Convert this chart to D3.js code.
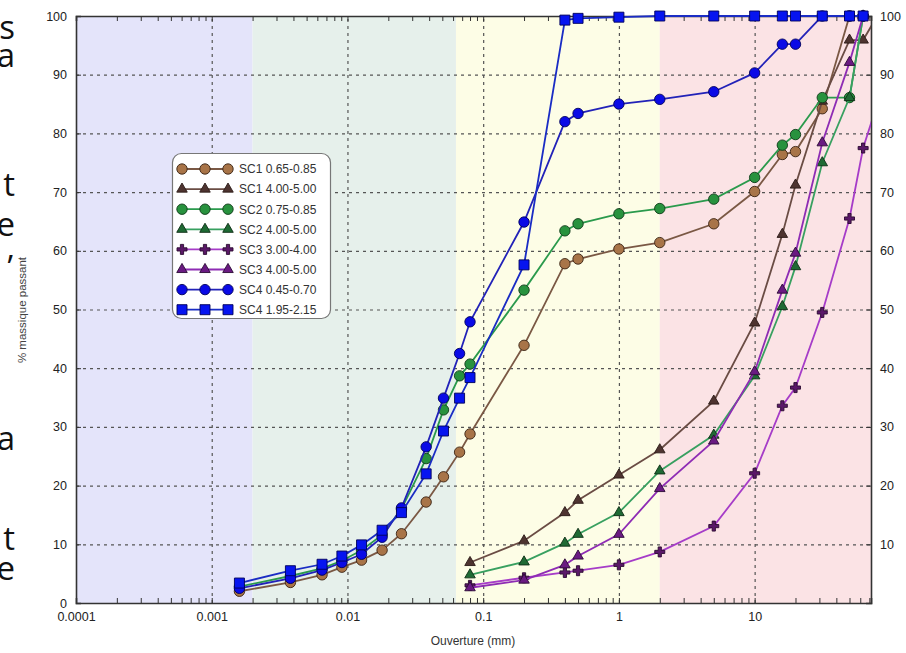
<!DOCTYPE html>
<html><head><meta charset="utf-8">
<script src="https://cdn.jsdelivr.net/npm/d3@7"></script>
<style>
html,body{margin:0;padding:0;background:#fff;}
svg{display:block;font-family:"Liberation Sans",Arial,sans-serif;}
</style></head>
<body><svg id="c" width="906" height="653"></svg>
<script>
// ---------- data ----------
const fineSizes  = [0.0016, 0.0038, 0.0065, 0.0091, 0.0127, 0.018, 0.025, 0.038, 0.051, 0.067, 0.08];
const sieveSizes = [0.2, 0.4, 0.5, 1, 2, 5, 10, 16, 20, 31.5, 50, 63];
const coarseSizes = [0.08, 0.2, 0.4, 0.5, 1, 2, 5, 10, 16, 20, 31.5, 50, 63, 80];

const sc1Fine   = [2.0, 3.5, 4.8, 6.1, 7.3, 9.0, 11.8, 17.2, 21.5, 25.7, 28.8, 43.9, 57.8, 58.6, 60.3, 61.4, 64.6, 70.1, 76.4, 76.9, 84.2, 100, 100];
const sc1Coarse = [6.9, 10.6, 15.4, 17.5, 21.8, 26.1, 34.4, 47.7, 62.8, 71.2, 85.5, 95.9, 95.9, 100];
const sc2Fine   = [2.8, 4.6, 5.9, 7.2, 9.0, 11.6, 16.0, 24.6, 32.9, 38.7, 40.7, 53.3, 63.4, 64.6, 66.3, 67.2, 68.8, 72.5, 78.0, 79.8, 86.1, 86.1, 100];
const sc2Coarse = [4.8, 7.0, 10.2, 11.7, 15.4, 22.5, 28.6, 38.7, 50.5, 57.3, 75.0, 86.1, 100];
const sc3Mid    = [3.0, 4.3, 5.2, 5.5, 6.5, 8.7, 13.1, 22.1, 33.6, 36.7, 49.5, 65.5, 77.5, 85];
const sc3Coarse = [2.6, 3.9, 6.5, 8.0, 11.7, 19.5, 27.6, 39.4, 53.3, 59.6, 78.4, 92.1, 100];
const sc4Fine   = [2.5, 4.2, 5.6, 6.9, 8.3, 11.2, 16.2, 26.6, 34.9, 42.5, 47.9, 64.9, 82.0, 83.4, 85.0, 85.8, 87.1, 90.3, 95.2, 95.2, 100, 100, 100];
const sc4Coarse = [3.4, 5.5, 6.6, 8.0, 9.9, 12.4, 15.4, 22.0, 29.3, 34.9, 38.4, 57.6, 99.3, 99.6, 99.8, 100, 100, 100, 100, 100, 100, 100, 100];

const seriesNames = ["SC1 0.65-0.85","SC1 4.00-5.00","SC2 0.75-0.85","SC2 4.00-5.00","SC3 3.00-4.00","SC3 4.00-5.00","SC4 0.45-0.70","SC4 1.95-2.15"];
const xTickLabels = ["0.0001","0.001","0.01","0.1","1","10"];
const yTicks = [0,10,20,30,40,50,60,70,80,90,100];
const bandEdges = [0.0001, 0.002, 0.063, 2, 72];
const sideLetters = ["s","a","t","e",",","a","t","e"];

// ---------- layout / styles ----------
const fullSizes = fineSizes.concat(sieveSizes);
const series = [
  {name:seriesNames[0], xs:fullSizes, ys:sc1Fine,   line:"#7a5844", fill:"#a87448", stroke:"#3a2414", sym:"circle"},
  {name:seriesNames[1], xs:coarseSizes, ys:sc1Coarse, line:"#6a4c44", fill:"#4e3430", stroke:"#2a1a16", sym:"triangle"},
  {name:seriesNames[2], xs:fullSizes, ys:sc2Fine,   line:"#2a9a4c", fill:"#28923e", stroke:"#0e3a18", sym:"circle"},
  {name:seriesNames[3], xs:coarseSizes.slice(0,13), ys:sc2Coarse, line:"#38a060", fill:"#1f6a34", stroke:"#0c2c14", sym:"triangle"},
  {name:seriesNames[4], xs:coarseSizes, ys:sc3Mid,  line:"#a63cc8", fill:"#5a1868", stroke:"#2a0a30", sym:"plus"},
  {name:seriesNames[5], xs:coarseSizes.slice(0,13), ys:sc3Coarse, line:"#8e2cb4", fill:"#6a1a82", stroke:"#2a0a34", sym:"triangle"},
  {name:seriesNames[6], xs:fullSizes, ys:sc4Fine,   line:"#2222b8", fill:"#0a0ae6", stroke:"#00005a", sym:"circle"},
  {name:seriesNames[7], xs:fullSizes, ys:sc4Coarse, line:"#1a2cc4", fill:"#0614f0", stroke:"#00005a", sym:"square"}
];
const bandColors = ["#e4e4fa","#e6f0eb","#fdfde6","#fbe3e5"];

const L=76, R=871, T=16, B=603;
const svg = d3.select("#c");
const x = d3.scaleLog().domain([1e-4, 72]).range([L, R]);
const y = d3.scaleLinear().domain([0,100]).range([B, T]);

// side letters (cut-off slide text at the left edge)
const letterBase = [39, 67, 196, 236, 259, 450, 550, 580];
svg.append("g").selectAll("text").data(sideLetters).join("text")
  .attr("x", 15).attr("y", (d,i)=>letterBase[i]).attr("text-anchor","end")
  .attr("font-family","'Open Sans','Noto Sans',sans-serif").attr("font-size",33).attr("fill","#111").text(d=>d);

// bands
svg.append("g").selectAll("rect").data(bandColors).join("rect")
  .attr("x",(d,i)=>x(bandEdges[i])).attr("width",(d,i)=>x(bandEdges[i+1])-x(bandEdges[i]))
  .attr("y",T).attr("height",B-T).attr("fill",d=>d);

// grid
const majors = [0.0001,0.001,0.01,0.1,1,10];
const gx = svg.append("g").attr("transform",`translate(0,${B})`)
  .call(d3.axisBottom(x).tickValues(majors.slice(1)).tickSize(-(B-T)).tickFormat(""));
gx.select(".domain").remove();
gx.selectAll("line").attr("stroke","#555").attr("stroke-dasharray","3,4").attr("stroke-width",1.2);
const gy = svg.append("g").attr("transform",`translate(${L},0)`)
  .call(d3.axisLeft(y).tickValues(yTicks.slice(1,10)).tickSize(-(R-L)).tickFormat(""));
gy.select(".domain").remove();
gy.selectAll("line").attr("stroke","#555").attr("stroke-dasharray","3,4").attr("stroke-width",1.2);

// minor ticks (inward) top & bottom
const minors = [];
for (let e=-4;e<=1;e++) for (let m=1;m<=9;m++){ const v=m*Math.pow(10,e); if(v<=72) minors.push(v); }
const tb = svg.append("g").attr("transform",`translate(0,${B})`)
  .call(d3.axisBottom(x).tickValues(minors).tickSize(-5).tickFormat(""));
const tt = svg.append("g").attr("transform",`translate(0,${T})`)
  .call(d3.axisTop(x).tickValues(minors).tickSize(-5).tickFormat(""));
const tl = svg.append("g").attr("transform",`translate(${L},0)`)
  .call(d3.axisLeft(y).tickValues(yTicks).tickSize(-5).tickFormat(""));
const tr = svg.append("g").attr("transform",`translate(${R},0)`)
  .call(d3.axisRight(y).tickValues(yTicks).tickSize(-5).tickFormat(""));
[tb,tt,tl,tr].forEach(g=>{g.selectAll("line").attr("stroke","#333");g.select(".domain").attr("stroke","#333").attr("stroke-width",1.6);});

// tick labels
const lb = svg.append("g").attr("transform",`translate(0,${B})`)
  .call(d3.axisBottom(x).tickValues(majors).tickSize(0).tickPadding(9).tickFormat((d,i)=>xTickLabels[i]));
const ll = svg.append("g").attr("transform",`translate(${L},0)`)
  .call(d3.axisLeft(y).tickValues(yTicks).tickSize(0).tickPadding(9).tickFormat(d3.format("d")));
const lr = svg.append("g").attr("transform",`translate(${R},0)`)
  .call(d3.axisRight(y).tickValues(yTicks.slice(1)).tickSize(0).tickPadding(9).tickFormat(d3.format("d")));
[lb,ll,lr].forEach(g=>{g.select(".domain").remove();g.selectAll("text").attr("font-size",12.5).attr("fill","#222").attr("font-family","'Liberation Sans',Arial,sans-serif");});

// axis titles
svg.append("text").attr("x",473).attr("y",645).attr("text-anchor","middle").attr("font-size",12).attr("fill","#333").text("Ouverture (mm)");
svg.append("text").attr("transform","translate(26,310) rotate(-90)").attr("text-anchor","middle").attr("font-size",11.5).attr("fill","#444").text("% massique passant");

// series
svg.append("defs").append("clipPath").attr("id","clip").append("rect").attr("x",L).attr("y",T-8).attr("width",R-L).attr("height",B-T+16);
const symPath = s => {
  if (s==="circle") return d3.symbol(d3.symbolCircle, 85)();
  if (s==="square") return d3.symbol(d3.symbolSquare, 100)();
  if (s==="triangle") return d3.symbol(d3.symbolTriangle, 48)();
  return "M-1.6,-5H1.6V-1.6H5V1.6H1.6V5H-1.6V1.6H-5V-1.6H-1.6Z";
};
const lineGen = d3.line().x(d=>x(d[0])).y(d=>y(d[1]));
series.forEach(s=>{
  const pts = s.xs.map((v,i)=>[v, s.ys[i]]);
  const g = svg.append("g");
  g.append("path").attr("d",lineGen(pts)).attr("fill","none").attr("stroke",s.line).attr("stroke-width",1.8).attr("clip-path","url(#clip)");
  g.selectAll("path.m").data(pts.filter(p=>p[0]<=72)).join("path").attr("class","m")
    .attr("transform",p=>`translate(${x(p[0])},${y(p[1])})`).attr("d",symPath(s.sym))
    .attr("fill",s.fill).attr("stroke",s.stroke).attr("stroke-width",0.9);
});

// legend
const lg = svg.append("g");
lg.append("rect").attr("x",172.5).attr("y",153.5).attr("width",158).attr("height",165).attr("rx",9)
  .attr("fill","#fff").attr("stroke","#777").attr("stroke-width",1.2);
series.forEach((s,i)=>{
  const yy = 169 + i*20.1;
  lg.append("line").attr("x1",182).attr("x2",228).attr("y1",yy).attr("y2",yy).attr("stroke",s.line).attr("stroke-width",1.8);
  [182,205,228].forEach(xx=>lg.append("path").attr("transform",`translate(${xx},${yy})`).attr("d",symPath(s.sym))
    .attr("fill",s.fill).attr("stroke",s.stroke).attr("stroke-width",0.9));
  lg.append("text").attr("x",239).attr("y",yy+4.3).attr("font-size",12).attr("fill","#333").text(s.name);
});
</script></body></html>
